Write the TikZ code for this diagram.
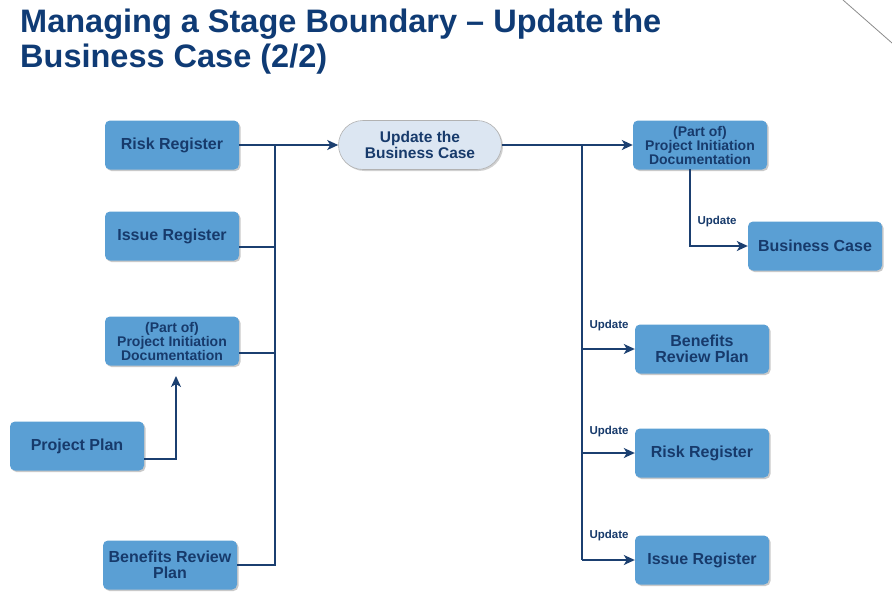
\documentclass[tikz,border=0pt]{standalone}
\usepackage{fontspec}
\setmainfont{Liberation Sans}
\usetikzlibrary{arrows.meta,shadows,shapes.misc}
\definecolor{boxfill}{HTML}{5A9FD4}
\definecolor{txtblue}{HTML}{173A6B}
\definecolor{titleblue}{HTML}{0F3B75}
\definecolor{lineblue}{HTML}{1B3F70}
\definecolor{pillfill}{HTML}{DCE6F2}
\tikzset{
  box/.style={rectangle, rounded corners=5pt, fill=boxfill, draw=none,
    minimum width=134pt, minimum height=49pt, inner sep=2pt,
    align=center, text=txtblue, font=\bfseries\fontsize{16}{16}\selectfont,
    drop shadow={shadow xshift=1.5pt, shadow yshift=-1.5pt, opacity=0.35, fill=black!60}},
  smallbox/.style={box, font=\bfseries\fontsize{14}{14}\selectfont},
  pill/.style={rounded rectangle, fill=pillfill, draw=black!30, line width=0.6pt,
    minimum width=167pt, minimum height=49pt, inner sep=2pt,
    align=center, text=txtblue, font=\bfseries\fontsize{15.5}{15.5}\selectfont,
    drop shadow={shadow xshift=1.5pt, shadow yshift=-1.5pt, opacity=0.3, fill=black!60}},
  conn/.style={draw=lineblue, line width=1.5pt},
  arr/.style={conn, -{Stealth[length=11pt,width=10pt,inset=3pt]}},
  lbl/.style={text=txtblue, font=\bfseries\fontsize{11.5}{11.5}\selectfont, inner sep=0pt},
  ttl/.style={anchor=base west, inner sep=0pt, text=titleblue,
    font=\bfseries\fontsize{32.5}{35}\selectfont},
}
\begin{document}
\begin{tikzpicture}[x=1pt,y=-1pt]
\useasboundingbox (0,0) rectangle (892,597);
\fill[white] (0,0) rectangle (892,597);
% corner line
\coordinate (c1) at (843,0);
\coordinate (c2) at (892,43);
\draw[black!45, line width=0.8pt] (c1) -- (c2);
% title
\node[ttl] (title1) at (20,32) {Managing a Stage Boundary – Update the};
\node[ttl] (title2) at (20,67) {Business Case (2/2)};
% left nodes
\node[box] (rrL) at (172,145) {Risk Register};
\node[box] (irL) at (172,236) {Issue Register};
\node[smallbox] (pidL) at (172,341) {(Part of)\\Project Initiation\\Documentation};
\node[box] (pp) at (77,446) {Project Plan};
\node[box] (brpL) at (170,565) {Benefits Review\\Plan};
% centre
\node[pill] (upd) at (420,145) {Update the\\Business Case};
% right nodes
\node[smallbox] (pidR) at (700,145) {(Part of)\\Project Initiation\\Documentation};
\node[box] (bc) at (815,246) {Business Case};
\node[box] (brpR) at (702,349) {Benefits\\Review Plan};
\node[box] (rrR) at (702,453) {Risk Register};
\node[box] (irR) at (702,560) {Issue Register};
% left bus
\coordinate (busLtop) at (275,145);
\coordinate (busLbot) at (275,566);
\coordinate (irLo) at (239,247);
\coordinate (pidLo) at (239,353);
\coordinate (ppo) at (144,459);
\coordinate (pidLin) at (176,376);
\draw[arr] (rrL.east) -- (upd.west);
\draw[conn] (busLtop) -- (busLbot);
\draw[conn] (irLo) -- (irLo -| busLtop);
\draw[conn] (pidLo) -- (pidLo -| busLtop);
\draw[conn] (brpL.east) -- (brpL.east -| busLtop);
\draw[arr] (ppo) -| (pidLin);
% right bus
\coordinate (busRtop) at (582,145);
\coordinate (busRbot) at (582,560);
\coordinate (pidRo) at (690,169);
\draw[arr] (upd.east) -- (pidR.west);
\draw[conn] (busRtop) -- (busRbot);
\draw[arr] (brpR.west -| busRtop) -- (brpR.west);
\draw[arr] (rrR.west -| busRtop) -- (rrR.west);
\draw[arr] (irR.west -| busRtop) -- (irR.west);
\draw[arr] (pidRo) |- (bc.west);
% labels
\node[lbl] (l1) at (717,222) {Update};
\node[lbl] (l2) at (609,326) {Update};
\node[lbl] (l3) at (609,432) {Update};
\node[lbl] (l4) at (609,536) {Update};
\end{tikzpicture}
\end{document}
